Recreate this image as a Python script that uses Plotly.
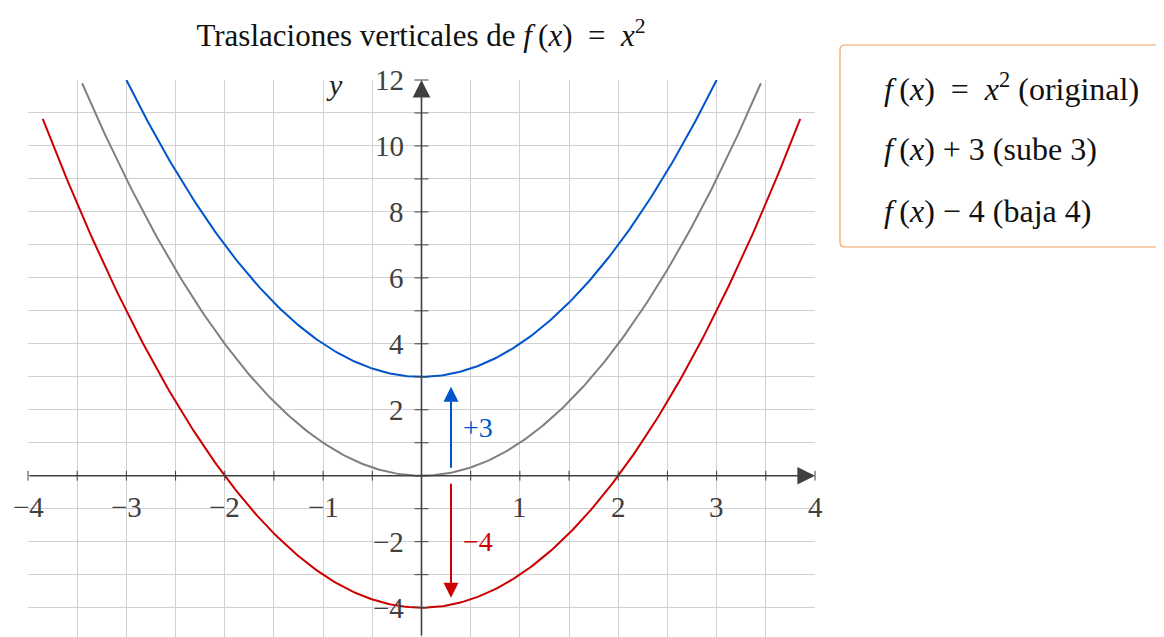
import numpy as np
import plotly.graph_objects as go

# ---- data ----
series_names = ["f(x) = x² (original)", "f(x) + 3 (sube 3)", "f(x) − 4 (baja 4)"]
shifts = [0, 3, -4]
x_limits = [3.45, 3.0, 3.85]
colors = ["#808080", "#0055CC", "#CC0000"]
SP = "\u00a0"
legend_texts = [
    f"<i>f</i>\u2009(<i>x</i>){SP}{SP}={SP}{SP}<i>x</i><sup>2</sup> (original)",
    f"<i>f</i>\u2009(<i>x</i>){SP}+{SP}3 (sube 3)",
    f"<i>f</i>\u2009(<i>x</i>){SP}−{SP}4 (baja 4)",
]
x_tick_vals = [-4, -3, -2, -1, 1, 2, 3, 4]
x_tick_text = ["−4", "−3", "−2", "−1", "1", "2", "3", "4"]
y_tick_vals = [-4, -2, 2, 4, 6, 8, 10, 12]
y_tick_text = ["−4", "−2", "2", "4", "6", "8", "10", "12"]
x_minor = [v / 2 for v in range(-8, 9)]
y_minor = list(range(-4, 13))
shift_arrows = [(0.3, 0.2, 2.7, "+3", "#0055CC", 1.45), (0.3, -0.2, -3.7, "−4", "#CC0000", -2.0)]

XR = [-4, 4]
YR = [-4.89, 12]
FONT = "Liberation Serif"
AX = "#404040"
OFF = 8  # default body margin of the html page

fig = go.Figure()
for name, s, lim, c in zip(series_names, shifts, x_limits, colors):
    xs = np.linspace(-lim, lim, 301)
    fig.add_trace(go.Scatter(x=xs, y=xs ** 2 + s, mode="lines", name=name,
                             line=dict(color=c, width=2), showlegend=False,
                             hoverinfo="skip"))

# tick marks on axes
fig.add_trace(go.Scatter(x=x_minor, y=[0] * len(x_minor), mode="markers",
                         marker=dict(symbol="line-ns-open", size=7, color=AX,
                                     line=dict(color=AX, width=1)),
                         showlegend=False, hoverinfo="skip", cliponaxis=False))
fig.add_trace(go.Scatter(x=[0] * len(y_minor), y=y_minor, mode="markers",
                         marker=dict(symbol="line-ew-open", size=10, color=AX,
                                     line=dict(color=AX, width=1)),
                         showlegend=False, hoverinfo="skip", cliponaxis=False))

ann = []
# axes with arrowheads
ann.append(dict(x=XR[1], y=0, ax=XR[0], ay=0, xref="x", yref="y", axref="x", ayref="y",
                showarrow=True, arrowhead=2, arrowsize=2.2, arrowwidth=1.6,
                arrowcolor=AX, text="", standoff=0))
ann.append(dict(x=0, y=YR[1], ax=0, ay=YR[0], xref="x", yref="y", axref="x", ayref="y",
                showarrow=True, arrowhead=2, arrowsize=2.2, arrowwidth=1.6,
                arrowcolor=AX, text="", standoff=0))
# shift arrows
for x0, ys, ye, lab, c, ly in shift_arrows:
    ann.append(dict(x=x0, y=ye, ax=x0, ay=ys, xref="x", yref="y", axref="x", ayref="y",
                    showarrow=True, arrowhead=2, arrowsize=1.5, arrowwidth=2,
                    arrowcolor=c, text="", standoff=0))
    ann.append(dict(x=x0 + 0.10, y=ly, xref="x", yref="y", text=lab, showarrow=False,
                    xanchor="left", yanchor="middle",
                    font=dict(family=FONT, size=28, color=c)))
# tick labels
for v, t in zip(x_tick_vals, x_tick_text):
    ann.append(dict(x=v, y=0, xref="x", yref="y", text=t, showarrow=False,
                    yshift=-31, xanchor="center", yanchor="middle",
                    font=dict(family=FONT, size=29, color=AX)))
for v, t in zip(y_tick_vals, y_tick_text):
    ann.append(dict(x=0, y=v, xref="x", yref="y", text=t, showarrow=False,
                    xshift=-16, xanchor="right", yanchor="middle",
                    font=dict(family=FONT, size=29, color=AX)))
# axis labels
ann.append(dict(x=-0.88, y=12, xref="x", yref="y", text="<i>y</i>", showarrow=False,
                yshift=-4, font=dict(family=FONT, size=30, color="#222222")))
ann.append(dict(x=4.18, y=-2.1, xref="x", yref="y", text="<i>x</i>", showarrow=False,
                font=dict(family=FONT, size=30, color="#222222")))

# legend box (rounded) in paper coords (page pixel -> paper)
L, T, W, H = 28, 80, 787, 557
def px(xp):
    return (xp - L) / W
def py(yp):
    return (T + H - yp) / H
x0, x1, y0, y1 = 840, 1172, 45, 247
r = 5
path = (f"M {px(x0 + r)},{py(y0)} L {px(x1 - r)},{py(y0)} "
        f"Q {px(x1)},{py(y0)} {px(x1)},{py(y0 + r)} L {px(x1)},{py(y1 - r)} "
        f"Q {px(x1)},{py(y1)} {px(x1 - r)},{py(y1)} L {px(x0 + r)},{py(y1)} "
        f"Q {px(x0)},{py(y1)} {px(x0)},{py(y1 - r)} L {px(x0)},{py(y0 + r)} "
        f"Q {px(x0)},{py(y0)} {px(x0 + r)},{py(y0)} Z")
shapes = [dict(type="path", xref="paper", yref="paper", path=path,
               line=dict(color="#F0A060", width=1.2), fillcolor="white", layer="above")]
for i, t in enumerate(legend_texts):
    ann.append(dict(x=px(882), y=py(87 + 62 * i), xref="paper", yref="paper", text=t,
                    showarrow=False, xanchor="left", yanchor="middle",
                    font=dict(family=FONT, size=32, color="#111111")))

FW, FH = 1164 - OFF, 637 - OFF
fig.update_layout(
    width=FW, height=FH,
    margin=dict(l=L - OFF, r=FW - (L - OFF) - W, t=T - OFF, b=0),
    paper_bgcolor="white", plot_bgcolor="white",
    title=dict(text=f"Traslaciones verticales de <i>f</i>\u2009(<i>x</i>){SP}{SP}={SP}{SP}<i>x</i><sup>2</sup>",
               x=(421 - OFF) / FW, xanchor="center", y=1 - (35 - OFF) / FH, yanchor="middle",
               font=dict(family=FONT, size=31, color="#111111")),
    xaxis=dict(range=XR, dtick=0.5, tick0=0, showticklabels=False, ticks="",
               showgrid=True, gridcolor="#D0D0D0", gridwidth=1, zeroline=False,
               showline=False, fixedrange=True),
    yaxis=dict(range=YR, dtick=1, tick0=0, showticklabels=False, ticks="",
               showgrid=True, gridcolor="#D0D0D0", gridwidth=1, zeroline=False,
               showline=False, fixedrange=True),
    annotations=ann, shapes=shapes, showlegend=False,
)
fig.write_html("out.html")
